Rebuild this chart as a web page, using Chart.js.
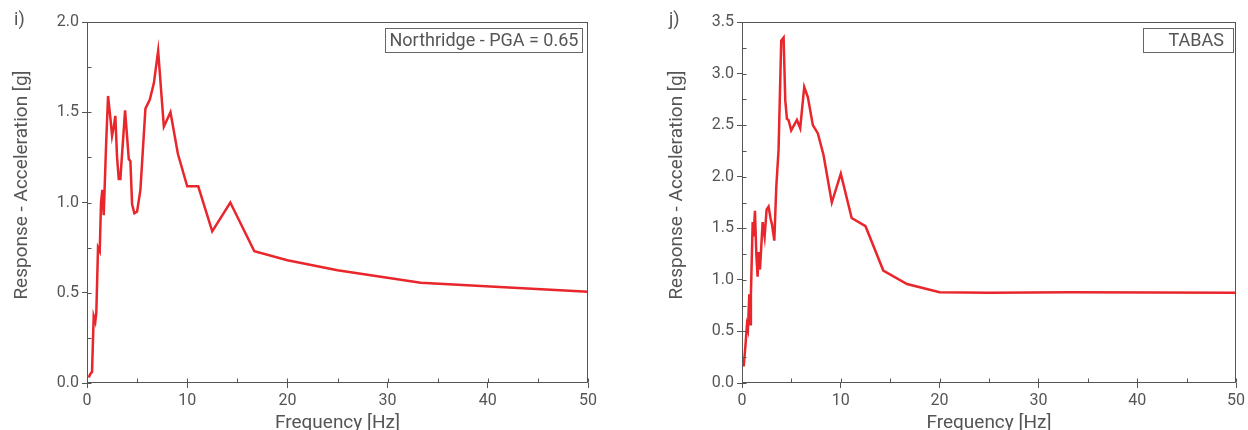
<!DOCTYPE html>
<html>
<head>
<meta charset="utf-8">
<script src="https://cdn.jsdelivr.net/npm/chart.js@4"></script>
<style>
    html, body { margin: 0; padding: 0; background: #fff; overflow: hidden; width: 1248px; height: 430px; }
    .painel { position: absolute; top: 0; width: 624px; height: 430px; }
    .rotulo { position: absolute; top: 8px; font: 18px Roboto, sans-serif; color: #555; }
</style>
</head>
<body>
<div class="painel" style="left:0"><canvas id="graficoNorthridge"></canvas></div>
<div class="painel" style="left:624px"><canvas id="graficoTabas"></canvas></div>
<span class="rotulo" style="left:14px">i)</span>
<span class="rotulo" style="left:669px">j)</span>
<script>
// Northridge - PGA = 0.65
const frequenciasNorthridge = [0.17, 0.33, 0.5, 0.67, 0.83, 0.93, 1.1, 1.27, 1.4, 1.53, 1.67, 1.9, 2.1, 2.33, 2.5, 2.67, 2.83, 3.0, 3.17, 3.33, 3.8, 4.17, 4.33, 4.5, 4.73, 5.0, 5.33, 5.83, 6.27, 6.67, 7.1, 7.67, 8.33, 9.07, 10, 11.1, 12.5, 14.3, 16.7, 20, 25, 33.3, 50];
const aceleracoesNorthridge = [0.03, 0.05, 0.06, 0.37, 0.34, 0.39, 0.75, 0.73, 1.0, 1.07, 0.93, 1.31, 1.59, 1.47, 1.37, 1.42, 1.48, 1.25, 1.13, 1.13, 1.51, 1.24, 1.23, 0.99, 0.94, 0.95, 1.07, 1.52, 1.57, 1.66, 1.84, 1.42, 1.50, 1.27, 1.09, 1.09, 0.84, 1.0, 0.73, 0.68, 0.625, 0.555, 0.505];

// TABAS
const frequenciasTabas = [0.17, 0.34, 0.5, 0.6, 0.74, 0.81, 0.9, 1.08, 1.18, 1.31, 1.45, 1.58, 1.68, 1.82, 2.09, 2.29, 2.49, 2.69, 2.9, 3.03, 3.27, 3.47, 3.7, 3.97, 4.21, 4.38, 4.55, 4.71, 4.98, 5.56, 5.89, 6.3, 6.67, 7.17, 7.68, 8.25, 9.09, 10.0, 11.1, 12.5, 14.3, 16.7, 20, 25, 33.3, 50];
const aceleracoesTabas = [0.16, 0.35, 0.56, 0.52, 0.86, 0.57, 0.85, 1.56, 1.42, 1.67, 1.25, 1.03, 1.27, 1.10, 1.56, 1.42, 1.68, 1.71, 1.59, 1.54, 1.38, 1.90, 2.26, 3.32, 3.35, 2.74, 2.56, 2.55, 2.45, 2.55, 2.47, 2.87, 2.77, 2.50, 2.42, 2.21, 1.75, 2.03, 1.60, 1.52, 1.09, 0.96, 0.88, 0.875, 0.88, 0.875];

const tituloEixoX = 'Frequency [Hz]';
const tituloEixoY = 'Response - Acceleration [g]';

const corTexto = '#555';
const corLinha = '#e8262b';
const fonte = 'Roboto, sans-serif';

// moldura, marcas internas, titulos dos eixos e caixa da legenda
const pluginMoldura = {
    id: 'moldura',
    afterDraw(chart, args, opcoes) {
        const { ctx, chartArea: area } = chart;
        ctx.save();
        ctx.strokeStyle = corTexto;
        ctx.lineWidth = 1;
        const esq = Math.round(area.left) + 0.5, dir = Math.round(area.right) - 0.5;
        const topo = Math.round(area.top) + 0.5, base = Math.round(area.bottom) - 0.5;
        ctx.strokeRect(esq, topo, dir - esq, base - topo);

        ['x', 'y'].forEach(idEixo => {
            const escala = chart.scales[idEixo];
            escala.ticks.forEach(tick => {
                const p = Math.round(escala.getPixelForValue(tick.value)) + 0.5;
                ctx.beginPath();
                if (idEixo === 'x') { ctx.moveTo(p, base); ctx.lineTo(p, base - 4); }
                else { ctx.moveTo(esq, p); ctx.lineTo(esq + 4, p); }
                ctx.stroke();
            });
        });

        ctx.fillStyle = corTexto;
        ctx.font = `19px ${fonte}`;
        ctx.textAlign = 'center';
        ctx.textBaseline = 'alphabetic';
        ctx.fillText(tituloEixoX, (area.left + area.right) / 2, 428);

        ctx.save();
        ctx.translate(opcoes.tituloYx, 185);
        ctx.rotate(-Math.PI / 2);
        ctx.textBaseline = 'middle';
        ctx.fillText(tituloEixoY, 0, 0);
        ctx.restore();

        ctx.font = `18px ${fonte}`;
        ctx.textAlign = 'left';
        ctx.textBaseline = 'middle';
        const largura = Math.round(ctx.measureText(opcoes.texto).width + opcoes.padEsq + opcoes.padDir);
        const x = Math.round(area.right - opcoes.margem - largura) + 0.5;
        const y = Math.round(area.top + 6) + 0.5;
        ctx.strokeStyle = '#666';
        ctx.strokeRect(x, y, largura, 24);
        ctx.fillText(opcoes.texto, x + opcoes.padEsq, y + 12.5);
        ctx.restore();
    }
};

function criarGrafico(id, frequencias, aceleracoes, maximoY, legenda, padding, larguraEixoY) {
    const ehMarcaPrincipal = valor => Math.abs(valor / 0.5 - Math.round(valor / 0.5)) < 1e-6;

    new Chart(document.getElementById(id), {
        type: 'line',
        data: {
            datasets: [{
                data: frequencias.map((f, i) => ({ x: f, y: aceleracoes[i] })),
                borderColor: corLinha,
                borderWidth: 2.5,
                pointRadius: 0,
                tension: 0,
                fill: false
            }]
        },
        options: {
            responsive: true,
            maintainAspectRatio: false,
            animation: false,
            events: [],
            layout: { padding },
            plugins: {
                legend: { display: false },
                tooltip: { enabled: false },
                moldura: legenda
            },
            scales: {
                x: {
                    type: 'linear',
                    min: 0,
                    max: 50,
                    border: { display: false },
                    grid: {
                        drawOnChartArea: false,
                        tickLength: 5,
                        color: ctx => ctx.tick && ctx.tick.value % 10 === 0 ? corTexto : 'transparent'
                    },
                    ticks: {
                        stepSize: 5,
                        maxRotation: 0,
                        autoSkip: false,
                        color: corTexto,
                        font: { family: fonte, size: 16 },
                        callback: valor => valor % 10 === 0 ? String(valor) : ''
                    },
                    afterFit: escala => { escala.height = 47; }
                },
                y: {
                    min: 0,
                    max: maximoY,
                    border: { display: false },
                    grid: {
                        drawOnChartArea: false,
                        tickLength: 5,
                        color: ctx => ctx.tick && ehMarcaPrincipal(ctx.tick.value) ? corTexto : 'transparent'
                    },
                    ticks: {
                        stepSize: 0.25,
                        autoSkip: false,
                        color: corTexto,
                        font: { family: fonte, size: 16 },
                        callback: valor => ehMarcaPrincipal(valor) ? valor.toFixed(1) : ''
                    },
                    afterFit: escala => { escala.width = larguraEixoY; }
                }
            }
        },
        plugins: [pluginMoldura]
    });
}

criarGrafico('graficoNorthridge', frequenciasNorthridge, aceleracoesNorthridge, 2.0,
    { texto: 'Northridge - PGA = 0.65', padEsq: 4, padDir: 4, margem: 6, tituloYx: 22 },
    { top: 22, right: 36, left: 0, bottom: 0 }, 87);

criarGrafico('graficoTabas', frequenciasTabas, aceleracoesTabas, 3.5,
    { texto: 'TABAS', padEsq: 25, padDir: 10, margem: 3, tituloYx: 53 },
    { top: 22, right: 10, left: 0, bottom: 0 }, 118);
</script>
</body>
</html>
